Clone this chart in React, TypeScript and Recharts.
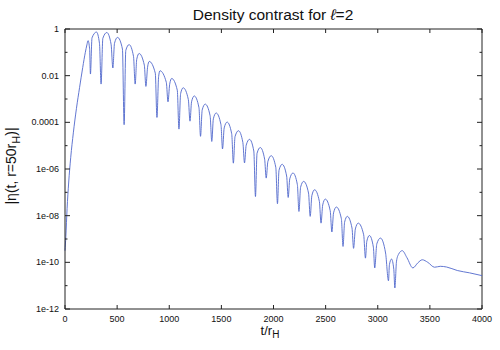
import React from 'react';
import { LineChart, Line, XAxis, YAxis, ReferenceLine } from 'recharts';

// time in units of r_H
const tValues = [
  0, 8, 20, 35, 55, 80, 110, 140, 170, 195, 210, 221, 236, 244,
  259, 302, 331, 346,
  363, 401, 442, 459,
  475, 504, 551, 567,
  583, 615, 657, 673,
  688, 711, 761, 776,
  792, 808, 866, 882,
  898, 911, 972, 988,
  1004, 1023, 1077, 1093,
  1109, 1134, 1183, 1199,
  1214, 1240, 1285, 1300,
  1316, 1345, 1392, 1408,
  1423, 1450, 1496, 1511,
  1527, 1555, 1599, 1615,
  1631, 1664, 1706, 1722,
  1738, 1770, 1811, 1827,
  1842, 1873, 1915, 1930,
  1946, 1978, 2022, 2038,
  2053, 2083, 2126, 2141,
  2156, 2187, 2229, 2244,
  2260, 2289, 2336, 2352,
  2368, 2394, 2440, 2456,
  2472, 2497, 2544, 2560,
  2576, 2603, 2651, 2667,
  2682, 2708, 2753, 2768,
  2785, 2813, 2865, 2882,
  2895, 2920, 2958, 2971,
  2991, 3026, 3075, 3103,
  3112, 3132, 3154, 3164,
  3180, 3200, 3235, 3280, 3337, 3385, 3427, 3480, 3545, 3600, 3660, 3763, 3880, 4000,
];

// log10 |eta(t, r=50 r_H)|
const logEta = [
  -9.5, -8.9, -7.7, -6.6, -5.5, -4.45, -3.4, -2.5, -1.65, -1.0, -0.68, -0.5, -0.85, -1.93,
  -0.38, -0.13, -0.63, -2.36,
  -0.4, -0.15, -0.65, -1.67,
  -0.61, -0.36, -0.86, -4.1,
  -0.92, -0.67, -1.17, -2.36,
  -1.3, -1.05, -1.55, -2.46,
  -1.64, -1.39, -1.89, -3.79,
  -2.04, -1.79, -2.29, -3.12,
  -2.37, -2.12, -2.62, -4.29,
  -2.77, -2.52, -3.02, -3.95,
  -3.12, -2.87, -3.37, -4.6,
  -3.47, -3.22, -3.72, -4.82,
  -3.85, -3.6, -4.1, -5.14,
  -4.24, -3.99, -4.49, -5.75,
  -4.61, -4.36, -4.86, -5.74,
  -4.98, -4.73, -5.23, -7.18,
  -5.33, -5.08, -5.58, -6.39,
  -5.68, -5.43, -5.93, -7.49,
  -6.05, -5.8, -6.3, -7.22,
  -6.42, -6.17, -6.67, -7.82,
  -6.78, -6.53, -7.03, -8.03,
  -7.14, -6.89, -7.39, -8.32,
  -7.54, -7.29, -7.79, -8.7,
  -7.88, -7.63, -8.13, -9.32,
  -8.28, -8.03, -8.53, -9.4,
  -8.57, -8.32, -8.82, -9.82,
  -9.1, -8.85, -9.35, -10.24,
  -9.21, -8.96, -9.6, -10.79,
  -10.1, -9.86, -10.3, -11.1,
  -9.95, -9.65, -9.5, -9.8, -10.24, -10.02, -9.89, -10.0, -10.21, -10.17, -10.2, -10.35, -10.45, -10.57,
];

const xTicks = [0, 500, 1000, 1500, 2000, 2500, 3000, 3500, 4000];
const yTicks = [1e-12, 1e-11, 1e-10, 1e-9, 1e-8, 1e-7, 1e-6, 1e-5, 1e-4, 1e-3, 1e-2, 1e-1, 1];
const yTickLabels: Record<string, string> = {
  '1': '1',
  '0.01': '0.01',
  '0.0001': '0.0001',
  '0.000001': '1e-06',
  '1e-8': '1e-08',
  '1e-10': '1e-10',
  '1e-12': '1e-12',
};

const data = tValues.map((t, i) => ({ t, eta: Math.pow(10, logEta[i]) }));

const FONT = '"Liberation Sans", Arial, Helvetica, sans-serif';
const AXIS = '#222';
const LEFT = 65;
const RIGHT = 482;
const TOP = 29;
const BOTTOM = 309;

const XTick = (props: any) => {
  const { x, payload } = props;
  return (
    <g>
      <line x1={x} y1={BOTTOM} x2={x} y2={BOTTOM - 4} stroke={AXIS} />
      <line x1={x} y1={TOP} x2={x} y2={TOP + 4} stroke={AXIS} />
      <text x={x} y={BOTTOM + 13} textAnchor="middle" fontSize={9} fontFamily={FONT} fill="#111">
        {payload.value}
      </text>
    </g>
  );
};

const YTick = (props: any) => {
  const { y, payload } = props;
  const label = yTickLabels[String(payload.value)];
  const len = label ? 5 : 2.5;
  return (
    <g>
      <line x1={LEFT} y1={y} x2={LEFT + len} y2={y} stroke={AXIS} />
      <line x1={RIGHT} y1={y} x2={RIGHT - len} y2={y} stroke={AXIS} />
      {label && (
        <text x={LEFT - 6} y={y + 3} textAnchor="end" fontSize={9} fontFamily={FONT} fill="#111">
          {label}
        </text>
      )}
    </g>
  );
};

const App: React.FC = () => {
  return (
    <div style={{ position: 'absolute', left: 0, top: 0, width: 500, height: 350, background: '#fff' }}>
      <LineChart width={500} height={350} data={data} margin={{ top: TOP, right: 500 - RIGHT, bottom: 0, left: 0 }}>
        <XAxis
          dataKey="t"
          type="number"
          domain={[0, 4000]}
          ticks={xTicks}
          height={350 - BOTTOM}
          tickLine={false}
          tick={<XTick />}
          axisLine={{ stroke: AXIS }}
          interval={0}
        />
        <YAxis
          type="number"
          scale="log"
          domain={[1e-12, 1]}
          allowDataOverflow
          ticks={yTicks}
          width={LEFT}
          tickLine={false}
          tick={<YTick />}
          axisLine={{ stroke: AXIS }}
          interval={0}
        />
        <ReferenceLine y={1} stroke={AXIS} />
        <ReferenceLine x={4000} stroke={AXIS} />
        <Line
          type="monotone"
          dataKey="eta"
          stroke="#5068cc"
          strokeWidth={0.9}
          dot={false}
          isAnimationActive={false}
        />
      </LineChart>
      <svg width={500} height={350} style={{ position: 'absolute', left: 0, top: 0, pointerEvents: 'none' }}>
        <text x={273} y={20} textAnchor="middle" fontSize={15.5} fontFamily={FONT} fill="#111">
          Density contrast for <tspan fontStyle="italic">ℓ</tspan>=2
        </text>
        <text x={270} y={335} textAnchor="middle" fontSize={13} fontFamily={FONT} fill="#111">
          t/r<tspan fontSize={10} dy={3}>H</tspan>
        </text>
        <text
          transform="translate(16, 166) rotate(-90)"
          textAnchor="middle"
          fontSize={14}
          fontFamily={FONT}
          fill="#111"
        >
          |η(t, r=50r<tspan fontSize={11} dy={4}>H</tspan>
          <tspan dy={-4}>)|</tspan>
        </text>
      </svg>
    </div>
  );
};

export default App;
